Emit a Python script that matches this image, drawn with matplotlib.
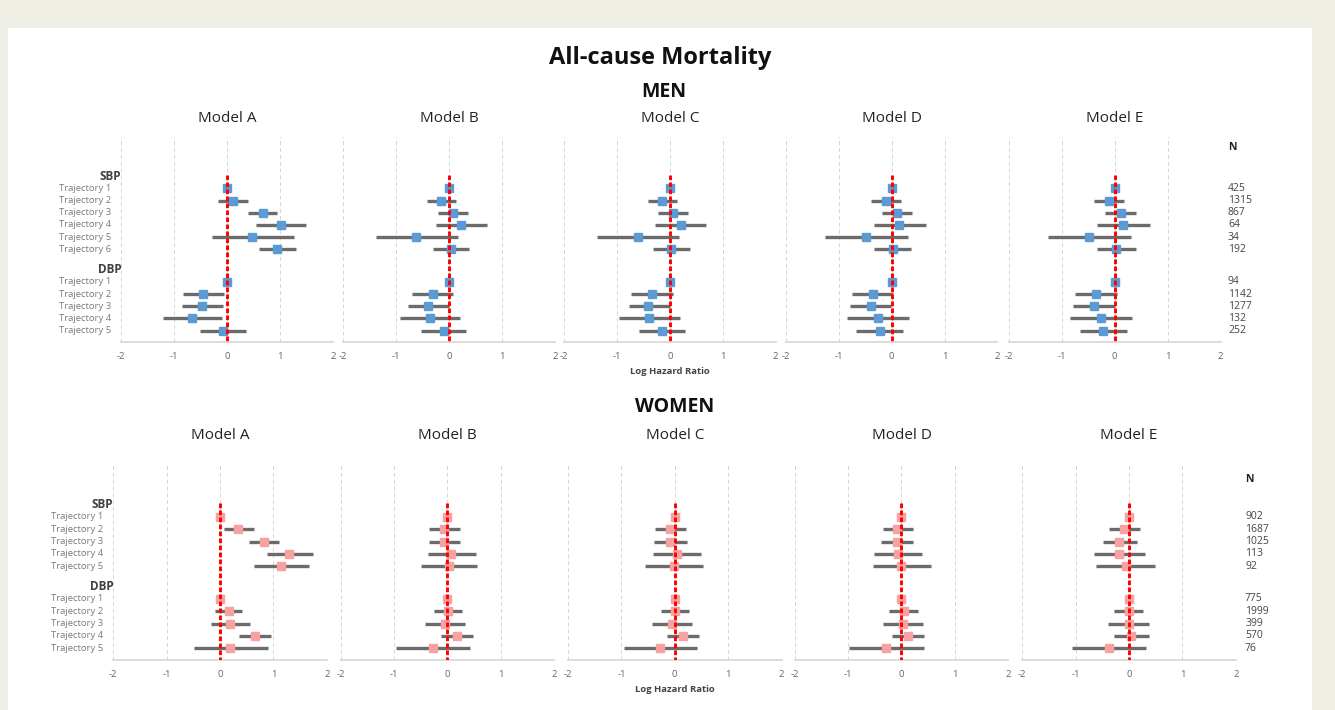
"""All-cause mortality forest plot: log hazard ratios by SBP/DBP trajectory, men and women, models A-E."""
import numpy as np
import matplotlib
matplotlib.use("Agg")
import matplotlib.pyplot as plt
from matplotlib.patches import Rectangle

plt.rcParams["font.family"] = ["Open Sans", "DejaVu Sans"]

W, H = 1335, 710

models = ["Model A", "Model B", "Model C", "Model D", "Model E"]
men_sbp_labels = ["Trajectory 1", "Trajectory 2", "Trajectory 3", "Trajectory 4", "Trajectory 5", "Trajectory 6"]
men_dbp_labels = ["Trajectory 1", "Trajectory 2", "Trajectory 3", "Trajectory 4", "Trajectory 5"]
women_sbp_labels = ["Trajectory 1", "Trajectory 2", "Trajectory 3", "Trajectory 4", "Trajectory 5"]
women_dbp_labels = ["Trajectory 1", "Trajectory 2", "Trajectory 3", "Trajectory 4", "Trajectory 5"]

men_sbp_n = [425, 1315, 867, 64, 34, 192]
men_dbp_n = [94, 1142, 1277, 132, 252]
women_sbp_n = [902, 1687, 1025, 113, 92]
women_dbp_n = [775, 1999, 399, 570, 76]

nan = np.nan
# one row per model (A..E); trajectory 1 is the reference (no CI)
men_sbp_est = [[0, 0.11, 0.675, 1.02, 0.48, 0.95],
               [0, -0.15, 0.075, 0.23, -0.62, 0.03],
               [0, -0.15, 0.06, 0.21, -0.60, 0.02],
               [0, -0.11, 0.10, 0.14, -0.49, 0.02],
               [0, -0.10, 0.11, 0.16, -0.48, 0.03]]
men_sbp_lo = [[nan, -0.18, 0.39, 0.54, -0.29, 0.61],
              [nan, -0.42, -0.20, -0.25, -1.38, -0.31],
              [nan, -0.42, -0.23, -0.28, -1.38, -0.32],
              [nan, -0.40, -0.19, -0.33, -1.27, -0.33],
              [nan, -0.39, -0.18, -0.34, -1.27, -0.34]]
men_sbp_hi = [[nan, 0.39, 0.95, 1.50, 1.27, 1.31],
              [nan, 0.14, 0.35, 0.71, 0.16, 0.38],
              [nan, 0.13, 0.35, 0.69, 0.18, 0.38],
              [nan, 0.18, 0.38, 0.64, 0.30, 0.37],
              [nan, 0.18, 0.40, 0.66, 0.31, 0.40]]
men_dbp_est = [[0, -0.45, -0.47, -0.67, -0.08],
               [0, -0.31, -0.39, -0.36, -0.10],
               [0, -0.34, -0.42, -0.39, -0.15],
               [0, -0.36, -0.40, -0.26, -0.23],
               [0, -0.35, -0.39, -0.26, -0.22]]
men_dbp_lo = [[nan, -0.83, -0.86, -1.22, -0.51],
              [nan, -0.70, -0.77, -0.93, -0.53],
              [nan, -0.73, -0.78, -0.96, -0.59],
              [nan, -0.75, -0.79, -0.84, -0.67],
              [nan, -0.75, -0.79, -0.84, -0.66]]
men_dbp_hi = [[nan, -0.05, -0.07, -0.09, 0.35],
              [nan, 0.08, 0.0, 0.21, 0.33],
              [nan, 0.06, 0.0, 0.19, 0.28],
              [nan, 0.03, -0.01, 0.32, 0.22],
              [nan, 0.04, 0.0, 0.32, 0.23]]

women_sbp_est = [[0, 0.34, 0.83, 1.30, 1.14],
                 [0, -0.06, -0.06, 0.075, 0.03],
                 [0, -0.09, -0.09, 0.04, -0.02],
                 [0, -0.075, -0.09, -0.07, 0.0],
                 [0, -0.10, -0.19, -0.18, -0.06]]
women_sbp_lo = [[nan, 0.08, 0.54, 0.875, 0.63],
                [nan, -0.34, -0.34, -0.36, -0.50],
                [nan, -0.37, -0.38, -0.41, -0.55],
                [nan, -0.35, -0.39, -0.52, -0.54],
                [nan, -0.37, -0.49, -0.65, -0.61]]
women_sbp_hi = [[nan, 0.64, 1.11, 1.74, 1.66],
                [nan, 0.23, 0.24, 0.53, 0.56],
                [nan, 0.21, 0.23, 0.49, 0.52],
                [nan, 0.225, 0.21, 0.39, 0.55],
                [nan, 0.21, 0.14, 0.29, 0.48]]
women_dbp_est = [[0, 0.16, 0.19, 0.66, 0.19],
                 [0, 0.01, -0.05, 0.175, -0.275],
                 [0, 0.01, -0.06, 0.16, -0.28],
                 [0, 0.04, 0.03, 0.12, -0.29],
                 [0, 0.0, -0.01, 0.04, -0.375]]
women_dbp_lo = [[nan, -0.10, -0.17, 0.36, -0.49],
                [nan, -0.26, -0.42, -0.12, -0.96],
                [nan, -0.26, -0.42, -0.14, -0.95],
                [nan, -0.23, -0.34, -0.18, -0.99],
                [nan, -0.275, -0.39, -0.28, -1.075]]
women_dbp_hi = [[nan, 0.42, 0.56, 0.95, 0.89],
                [nan, 0.28, 0.32, 0.48, 0.42],
                [nan, 0.27, 0.32, 0.46, 0.42],
                [nan, 0.31, 0.41, 0.43, 0.43],
                [nan, 0.27, 0.37, 0.37, 0.325]]

xticks = [-2, -1, 0, 1, 2]

GRID = "#d6d6d6"
CI = "#6b6b6b"
LABEL = "#7a7a7a"
HEAD = "#404040"


def px_axes(fig, left, top, width, height):
    return fig.add_axes([left / W, 1 - (top + height) / H, width / W, height / H])


def draw_sex(fig, lefts, width, top, bottom, sbp, dbp, n_sbp, n_dbp,
             sbp_labels, dbp_labels, color, n_x, n_head_y, title_y, xlabel_y):
    ns, nd = len(sbp_labels), len(dbp_labels)
    y_sbp = np.arange(ns)
    y_dbp = ns - 1 + 2.65 + np.arange(nd)
    ylim = (y_dbp[-1] + 0.95, -4.2)
    axes = []
    for k, left in enumerate(lefts):
        ax = px_axes(fig, left, top, width, bottom - top)
        ax.set_xlim(-2, 2)
        ax.set_ylim(*ylim)
        for x in xticks:
            ax.axvline(x, color=GRID, lw=0.7, dashes=(4, 3), zorder=0)
        for ys, (est, lo, hi) in ((y_sbp, sbp), (y_dbp, dbp)):
            ax.hlines(ys, np.array(lo[k]), np.array(hi[k]), color=CI, lw=2.4, zorder=2)
            ax.plot(est[k], ys, "s", ms=6.3, color=color, mec=color, zorder=3, ls="none")
        ax.vlines(0, -1.1, ylim[0], color="red", lw=2.1, zorder=4).set_dashes([(0, (1.6, 0.8))])
        for s in ("top", "left", "right"):
            ax.spines[s].set_visible(False)
        ax.spines["bottom"].set_color(GRID)
        ax.spines["bottom"].set_linewidth(1.2)
        ax.set_xticks(xticks)
        ax.set_xticklabels([str(t) for t in xticks])
        ax.tick_params(axis="x", length=0, labelsize=6.8, labelcolor="#666666", pad=7)
        ax.set_yticks([])
        ax.set_facecolor("none")
        fig.text((left + width / 2) / W, 1 - title_y / H, models[k], ha="center", va="center",
                 fontsize=11, color="#222222")
        axes.append(ax)

    # row labels on the first panel
    ax0 = axes[0]
    for ys, labels, head in ((y_sbp, sbp_labels, "SBP"), (y_dbp, dbp_labels, "DBP")):
        ax0.annotate(head, xy=(0, ys[0] - 1), xycoords=("axes fraction", "data"),
                     xytext=(0, 0), textcoords="offset points", ha="right", va="center",
                     fontsize=8.5, fontweight="bold", color=HEAD)
        for y, lab in zip(ys, labels):
            ax0.annotate(lab, xy=(0, y), xycoords=("axes fraction", "data"),
                         xytext=(-7, 0), textcoords="offset points", ha="right", va="center",
                         fontsize=6.8, color=LABEL)

    # N column next to the last panel
    axl = axes[-1]
    fig.text(n_x / W, 1 - n_head_y / H, "N", ha="left", va="center", fontsize=7.5,
             fontweight="bold", color="#222222")
    for ys, ns_ in ((y_sbp, n_sbp), (y_dbp, n_dbp)):
        for y, n in zip(ys, ns_):
            axl.annotate(str(n), xy=(n_x / W, y), xycoords=("figure fraction", "data"),
                         ha="left", va="center", fontsize=7.5, color="#444444",
                         annotation_clip=False)

    fig.text((lefts[2] + width / 2) / W, 1 - xlabel_y / H, "Log Hazard Ratio",
             ha="center", va="center", fontsize=6.8, fontweight="bold", color="#444444")
    return axes


fig = plt.figure(figsize=(W / 100, H / 100), dpi=100)
fig.patch.set_facecolor("#efefe5")
fig.patches.append(Rectangle((8 / W, 0), (1312 - 8) / W, 1 - 28 / H, transform=fig.transFigure,
                             facecolor="white", edgecolor="none", zorder=-10))

fig.text(660 / W, 1 - 58 / H, "All-cause Mortality", ha="center", va="center",
         fontsize=17, fontweight="bold", color="#111111")
fig.text(664 / W, 1 - 92 / H, "MEN", ha="center", va="center",
         fontsize=14, fontweight="bold", color="#111111")
fig.text(675 / W, 1 - 407 / H, "WOMEN", ha="center", va="center",
         fontsize=14, fontweight="bold", color="#111111")

draw_sex(fig, [121.3, 343.3, 564, 786, 1009], 211.5, 137, 342.3,
         (men_sbp_est, men_sbp_lo, men_sbp_hi), (men_dbp_est, men_dbp_lo, men_dbp_hi),
         men_sbp_n, men_dbp_n, men_sbp_labels, men_dbp_labels,
         "#5b9bd5", 1228, 147, 118, 372)

draw_sex(fig, [113.3, 340.7, 568, 794.7, 1022.3], 213.5, 465, 660,
         (women_sbp_est, women_sbp_lo, women_sbp_hi), (women_dbp_est, women_dbp_lo, women_dbp_hi),
         women_sbp_n, women_dbp_n, women_sbp_labels, women_dbp_labels,
         "#f7a1a1", 1245, 479, 436, 689)

fig.savefig("out.png", dpi=100, facecolor=fig.get_facecolor())
